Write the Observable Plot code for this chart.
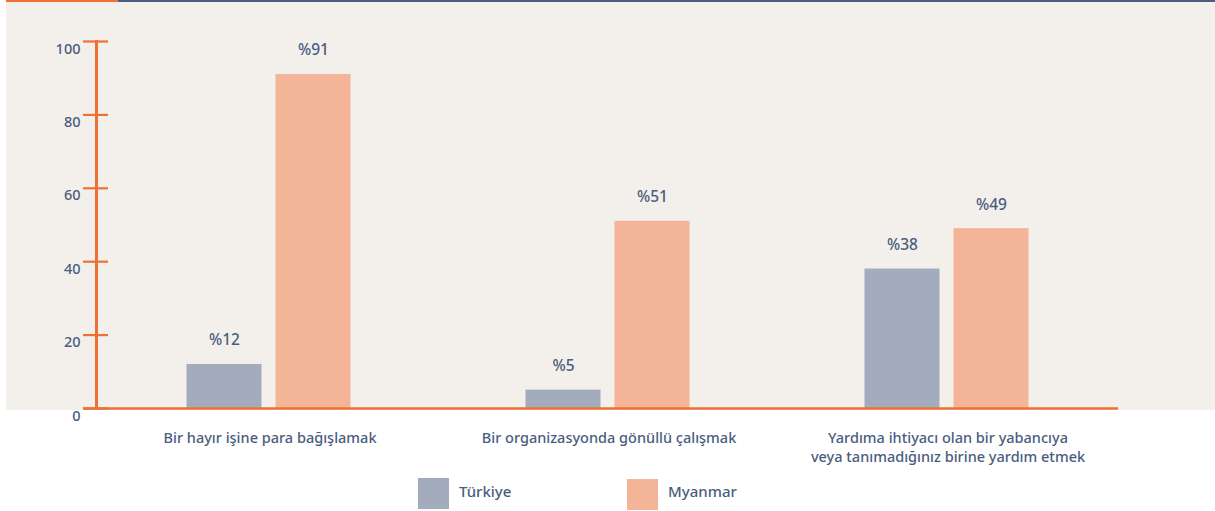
<!DOCTYPE html>
<html>
<head>
<meta charset="utf-8">
<script src="https://cdn.jsdelivr.net/npm/d3@7"></script>
<script src="https://cdn.jsdelivr.net/npm/@observablehq/plot@0.6"></script>
<style>
  html, body { margin: 0; padding: 0; background: #ffffff; }
  #wrap { position: relative; width: 1215px; height: 511px; overflow: hidden; font-family: "Noto Sans", sans-serif; color: #4a5d7e; }
  .stripe { position: absolute; top: 0; height: 2.5px; }
  #bg { position: absolute; left: 6px; top: 2px; width: 1209px; height: 408px; background: #f3f0eb; }
  #chart { position: absolute; left: 0; top: 0; }
  .leg { position: absolute; font-size: 15px; font-weight: 500; }
  .sw { position: absolute; width: 31px; height: 31px; }
</style>
</head>
<body>
<div id="wrap">
  <div class="stripe" style="left:6px;width:112px;background:#ee7033"></div>
  <div class="stripe" style="left:118px;width:1097px;background:#4a5e80"></div>
  <div id="bg"></div>
  <div id="chart"></div>
  <div id="legend"></div>
</div>
<script>
const categories = [
  "Bir hayır işine para bağışlamak",
  "Bir organizasyonda gönüllü çalışmak",
  "Yardıma ihtiyacı olan bir yabancıya\nveya tanımadığınız birine yardım etmek"
];
const seriesNames = ["Türkiye", "Myanmar"];
const turkiye = [12, 5, 38];
const myanmar = [91, 51, 49];
const yTicks = [0, 20, 40, 60, 80, 100];

const textColor = "#4a5d7e";
const orange = "#ee7033";
const seriesColors = ["#a3acbd", "#f4b498"];

const rowsT = categories.map((c, i) => ({category: c, series: seriesNames[0], value: turkiye[i]}));
const rowsM = categories.map((c, i) => ({category: c, series: seriesNames[1], value: myanmar[i]}));

// layout within each category band (pixels)
const BAND = 340, BAR = 76, GAP = 13, START = 86.5;
const insT = {insetLeft: START, insetRight: BAND - START - BAR};
const insM = {insetLeft: START + BAR + GAP, insetRight: BAND - (START + BAR + GAP) - BAR};
const dxT = START + BAR / 2 - BAND / 2;
const dxM = START + BAR + GAP + BAR / 2 - BAND / 2;

const font = "Noto Sans, sans-serif";

const chart = Plot.plot({
  width: 1215,
  height: 470,
  marginLeft: 96,
  marginRight: 97,
  marginTop: 41,
  marginBottom: 62,
  style: {background: "transparent", fontFamily: font, color: textColor},
  x: {domain: categories, range: [99, 1118], padding: 0},
  y: {domain: [0, 100]},
  marks: [
    Plot.barY(rowsT, {x: "category", y: "value", fill: seriesColors[0], ...insT}),
    Plot.barY(rowsM, {x: "category", y: "value", fill: seriesColors[1], ...insM}),
    Plot.ruleY([0], {stroke: orange, strokeWidth: 2.5, insetLeft: -13}),
    Plot.frame({anchor: "left", stroke: orange, strokeWidth: 3}),
    Plot.axisY(yTicks, {tickSize: 25, dx: 12, fill: "none", stroke: orange, strokeWidth: 2.2, strokeOpacity: 1, label: null}),
    Plot.axisY(yTicks, {tickSize: 0, tickPadding: 16, dy: 7.5, fill: textColor, fontSize: 14.5, fontWeight: 500, label: null}),
    Plot.axisX({tickSize: 0, tickPadding: 21, fill: textColor, fontSize: 14.5, fontWeight: 500, lineHeight: 1.3, label: null}),
    Plot.text(rowsT, {x: "category", y: "value", text: d => "%" + d.value, dx: dxT, dy: -24, fill: textColor, fontSize: 15.5, fontWeight: 500}),
    Plot.text(rowsM, {x: "category", y: "value", text: d => "%" + d.value, dx: dxM, dy: -24, fill: textColor, fontSize: 15.5, fontWeight: 500})
  ]
});
document.getElementById("chart").appendChild(chart);

// legend below the chart
const legendPos = [{sx: 418, sy: 478, tx: 459}, {sx: 627, sy: 479, tx: 668}];
const legend = document.getElementById("legend");
seriesNames.forEach((name, i) => {
  const sw = document.createElement("div");
  sw.className = "sw";
  sw.style.left = legendPos[i].sx + "px";
  sw.style.top = legendPos[i].sy + "px";
  sw.style.background = seriesColors[i];
  legend.appendChild(sw);
  const t = document.createElement("div");
  t.className = "leg";
  t.style.left = legendPos[i].tx + "px";
  t.style.top = "481px";
  t.textContent = name;
  legend.appendChild(t);
});
</script>
</body>
</html>
